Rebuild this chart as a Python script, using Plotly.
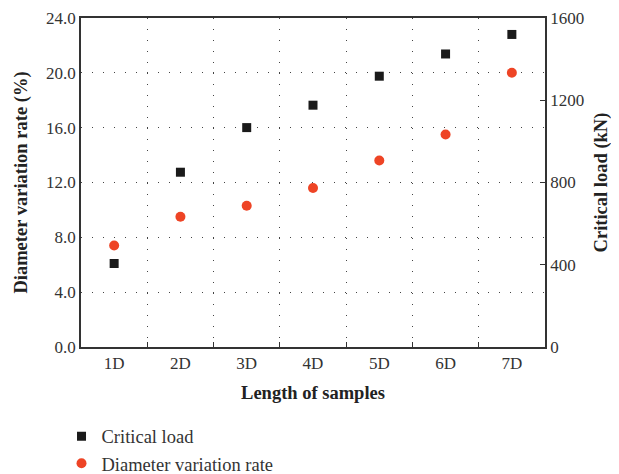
import plotly.graph_objects as go

categories = ["1D", "2D", "3D", "4D", "5D", "6D", "7D"]
critical_load = [406, 850, 1067, 1176, 1317, 1425, 1520]
diameter_rate = [7.4, 9.5, 10.3, 11.6, 13.6, 15.5, 20.0]
left_ticks = [0, 4, 8, 12, 16, 20, 24]
right_ticks = [0, 400, 800, 1200, 1600]

FONT = "Liberation Serif"
AX = "#333333"
TXT = "#333333"
TTL = "#222222"

fig = go.Figure()
fig.add_trace(go.Scatter(
    x=categories, y=critical_load, mode="markers", name="Critical load",
    yaxis="y2",
    marker=dict(symbol="square", size=9, color="#1a1a1a"),
))
fig.add_trace(go.Scatter(
    x=categories, y=diameter_rate, mode="markers", name="Diameter variation rate",
    marker=dict(symbol="circle", size=10, color="#ee4425"),
))

# page body has an 8px margin; size/margins compensate for it
fig.update_layout(
    width=611, height=466,
    margin=dict(l=73, r=74, t=10, b=127, autoexpand=False),
    plot_bgcolor="white", paper_bgcolor="white",
    font=dict(family=FONT, size=17, color=TXT),
    showlegend=True,
    legend=dict(
        orientation="v", x=-0.042, y=-0.215, xanchor="left", yanchor="top",
        font=dict(family=FONT, size=18.5, color=TXT),
        tracegroupgap=0, itemsizing="trace",
        traceorder="normal", bgcolor="rgba(0,0,0,0)",
    ),
    xaxis=dict(
        type="category", range=[-0.5, 6.5], automargin=False,
        tickson="boundaries", ticks="inside", ticklen=5, tickcolor=AX,
        showline=True, linecolor=AX, linewidth=1.5, mirror=True,
        showgrid=True, gridcolor="#444444", griddash="1px,10px", gridwidth=1,
        tickfont=dict(family=FONT, size=17, color=TXT),
        title=dict(text="<b>Length of samples</b>", font=dict(family=FONT, size=18.5, color=TTL), standoff=14),
        zeroline=False,
    ),
    yaxis=dict(
        range=[0, 24], tickvals=left_ticks, tickformat=".1f", automargin=False,
        ticklabeloverflow="allow",
        ticks="", showline=True, linecolor=AX, linewidth=1.5,
        showgrid=True, gridcolor="#444444", griddash="1px,10px", gridwidth=1,
        tickfont=dict(family=FONT, size=17, color=TXT),
        title=dict(text="<b>Diameter variation rate (%)</b>", font=dict(family=FONT, size=18.5, color=TTL), standoff=14),
        zeroline=False,
    ),
    yaxis2=dict(
        range=[0, 1600], tickvals=right_ticks, overlaying="y", side="right",
        automargin=False, ticklabeloverflow="allow",
        ticks="inside", ticklen=5, tickcolor=AX,
        showline=True, linecolor=AX, linewidth=1.5,
        showgrid=False, zeroline=False,
        tickfont=dict(family=FONT, size=17, color=TXT),
        title=dict(text="<b>Critical load (kN)</b>", font=dict(family=FONT, size=18.5, color=TTL), standoff=11),
    ),
)

fig.write_html("out.html")
